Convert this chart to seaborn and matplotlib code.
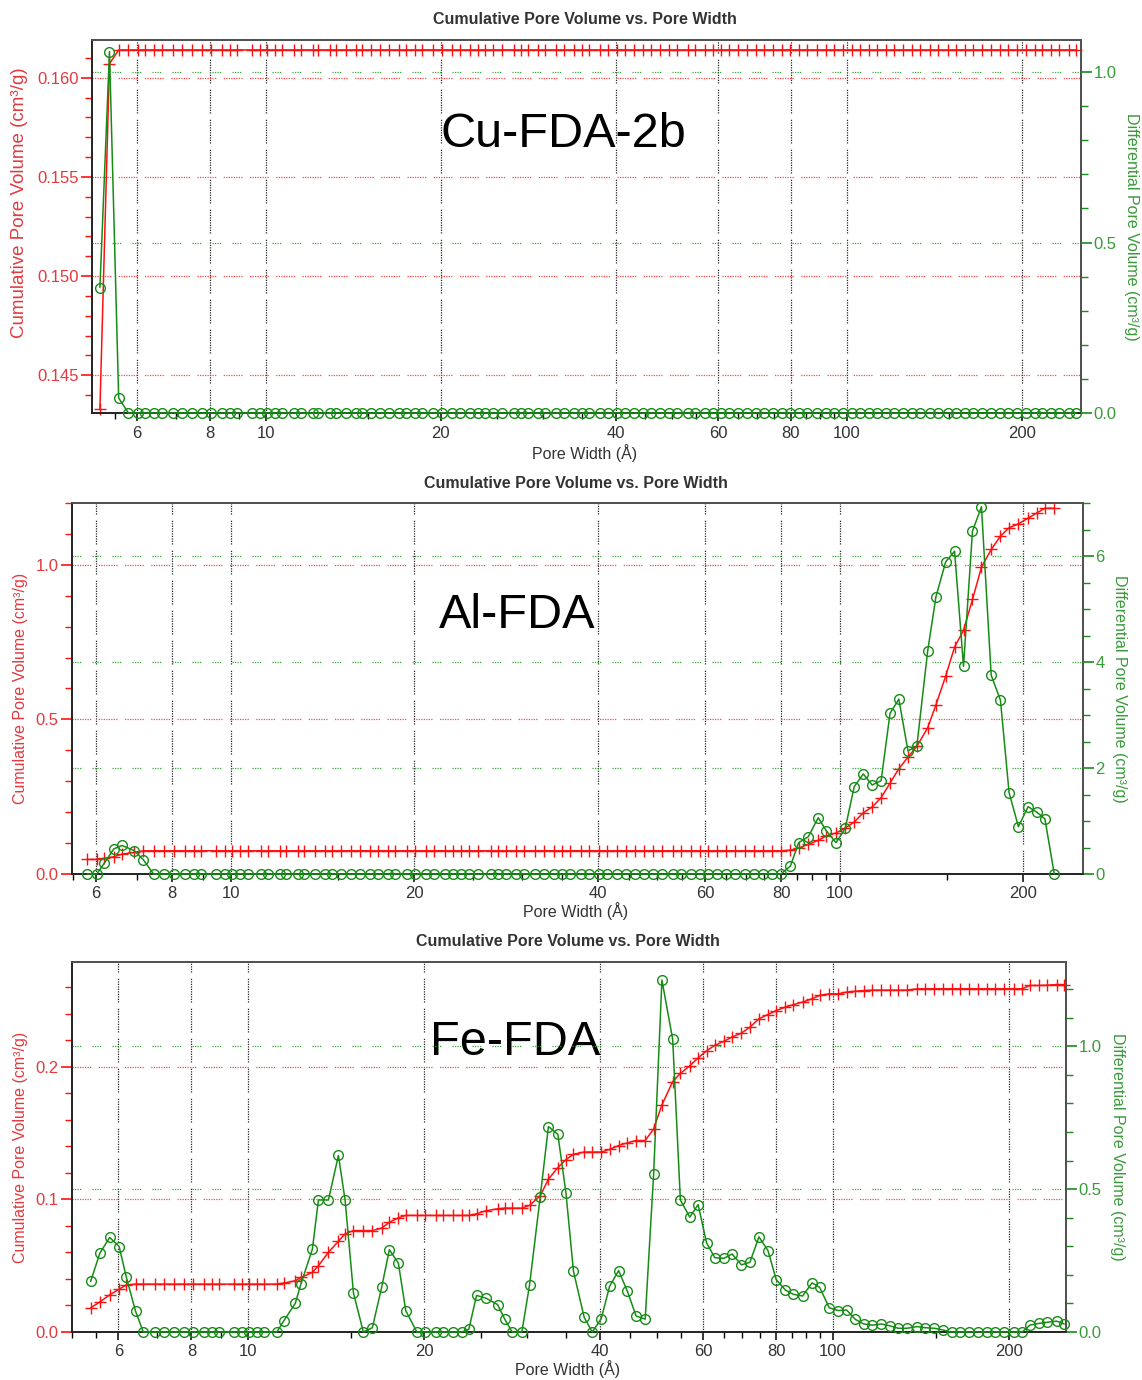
import matplotlib
matplotlib.use("Agg")
import matplotlib.pyplot as plt
import seaborn as sns
import pandas as pd
from matplotlib.ticker import FixedLocator, MultipleLocator, NullFormatter, FormatStrFormatter

# DFT pore widths (Å), the same grid is used by all three samples
pore_width = [
    5.18, 5.38, 5.58, 5.80, 6.02, 6.19, 6.42, 6.62, 6.93, 7.18,
    7.46, 7.76, 8.06, 8.40, 8.68, 8.92, 9.45, 9.76, 10.05, 10.35,
    10.65, 11.20, 11.50, 12.04, 12.31, 12.88, 13.19, 13.72, 14.27, 14.65,
    15.14, 15.74, 16.31, 16.92, 17.44, 18.07, 18.60, 19.43, 20.07, 20.93,
    21.57, 22.43, 23.17, 23.84, 24.58, 25.47, 26.70, 27.48, 28.28, 29.38,
    30.29, 31.57, 32.62, 33.85, 34.95, 36.0, 37.55, 38.76, 40.16, 41.5,
    43.0, 44.5, 46.06, 47.74, 49.35, 50.99, 53.2, 54.83, 56.9, 58.8,
    60.78, 62.8, 65.07, 67.2, 69.74, 72.1, 74.7, 77.4, 79.98, 82.9,
    85.5, 88.7, 92.1, 94.9, 98.5, 102.0, 105.5, 109.2, 112.9, 116.8,
    120.8, 124.9, 129.3, 133.7, 139.3, 143.7, 149.1, 154.2, 159.5, 165.0,
    170.7, 177.1, 183.4, 189.5, 196.3, 203.6, 210.6, 217.0, 224.8, 232.2,
    241.2, 248.5,
]

# Cu-FDA-2b (starts at pore_width[0])
cu_start = 0
cu_cumulative = [0.1433, 0.1607] + [0.1614] * 110
cu_differential = [0.368, 1.06, 0.044] + [0.0] * 109

# Al-FDA (starts at pore_width[3])
al_start = 3
al_cumulative = ([0.0472, 0.0472, 0.0504, 0.0558, 0.0644, 0.0697, 0.0751]
                 + [0.0751] * 69
                 + [0.077, 0.084, 0.096, 0.109, 0.123, 0.1325, 0.1487, 0.168, 0.198, 0.2166,
                    0.2468, 0.294, 0.3405, 0.378, 0.4127, 0.473, 0.547, 0.64, 0.734, 0.788,
                    0.888, 0.9925, 1.0496, 1.093, 1.12, 1.1325, 1.151, 1.168, 1.183, 1.183])
al_differential = ([0.0, 0.0, 0.203, 0.475, 0.538, 0.443, 0.266]
                   + [0.0] * 69
                   + [0.151, 0.591, 0.704, 1.063, 0.818, 0.591, 0.862, 1.648, 1.887, 1.679,
                      1.761, 3.03, 3.30, 2.32, 2.415, 4.21, 5.23, 5.89, 6.09, 3.92,
                      6.47, 6.93, 3.75, 3.28, 1.535, 0.893, 1.27, 1.164, 1.038, 0.0])

# Fe-FDA (starts at pore_width[1])
fe_start = 1
fe_cumulative = ([0.0182, 0.0227, 0.028, 0.0323, 0.0354]
                 + [0.0361] * 16
                 + [0.0369, 0.0386, 0.0412, 0.0449, 0.05, 0.0601, 0.0684, 0.074, 0.0765, 0.0765,
                    0.0765, 0.0783, 0.0828, 0.0861]
                 + [0.0879] * 8
                 + [0.0891, 0.0914, 0.0929, 0.0934, 0.0934, 0.0934, 0.0955, 0.1027, 0.1152, 0.124,
                    0.130, 0.134, 0.1357, 0.1357, 0.1357, 0.1377, 0.1406, 0.1426, 0.1444, 0.1444,
                    0.1531, 0.1713, 0.1888, 0.195, 0.2007, 0.2067, 0.212, 0.2162, 0.2192, 0.2224,
                    0.2254, 0.2299, 0.2362, 0.2394, 0.2424, 0.245, 0.2468, 0.2488, 0.2513, 0.2538,
                    0.255, 0.255, 0.2563, 0.257, 0.2575]
                 + [0.2578] * 5
                 + [0.2588] * 13
                 + [0.2613, 0.2613, 0.2615, 0.262, 0.262])
fe_differential = ([0.177, 0.276, 0.331, 0.299, 0.193, 0.073]
                   + [0.0] * 15
                   + [0.038, 0.10, 0.168, 0.29, 0.462, 0.462, 0.618, 0.462, 0.137, 0.0,
                      0.015, 0.157, 0.288, 0.241, 0.075]
                   + [0.0] * 6
                   + [0.009, 0.128, 0.119, 0.096, 0.044, 0.0, 0.0, 0.166, 0.471, 0.719,
                      0.692, 0.486, 0.212, 0.051, 0.0, 0.047, 0.160, 0.215, 0.143, 0.056,
                      0.045, 0.552, 1.232, 1.024, 0.462, 0.402, 0.446, 0.312, 0.26, 0.258,
                      0.273, 0.235, 0.244, 0.333, 0.285, 0.183, 0.147, 0.132, 0.126, 0.172,
                      0.156, 0.085, 0.075, 0.077, 0.044, 0.028, 0.024, 0.028, 0.022, 0.013,
                      0.013, 0.019, 0.015, 0.013, 0.007]
                   + [0.0] * 9
                   + [0.024, 0.030, 0.034, 0.038, 0.028])

x_major = [6, 8, 10, 20, 40, 60, 80, 100, 200]
x_minor = [5, 5.5, 7, 9, 15, 25, 30, 35, 45, 50, 55, 65, 70, 75, 85, 90, 95, 150]

TITLE = "Cumulative Pore Volume vs. Pore Width"
LEFT_LABEL = "Cumulative Pore Volume (cm³/g)"
RIGHT_LABEL = "Differential Pore Volume (cm³/g)"
X_LABEL = "Pore Width (Å)"

RED = "#ff1010"
RED_TXT = "#e23a3f"
GREEN = "#168c16"
GREEN_TXT = "#3a9a3a"
GRAY = "#333333"


def make_frame(start, cumulative, differential):
    n = len(cumulative)
    assert n == len(differential)
    return pd.DataFrame({
        "width": pore_width[start:start + n],
        "cumulative": cumulative,
        "differential": differential,
    })


def dot_dash(n_dots, gap):
    return (0, (1, 1) * (n_dots - 1) + (1, gap))


sns.set_theme(style="ticks")
plt.rcParams["font.family"] = ["Liberation Sans", "DejaVu Sans"]

W, H = 1142, 1380
fig = plt.figure(figsize=(W / 100, H / 100), dpi=100)

panels = [
    dict(name="Cu-FDA-2b", df=make_frame(cu_start, cu_cumulative, cu_differential),
         box=(92, 40, 1081, 413), xlim=(5.02, 253), yl=(0.1431, 0.1619), yr=(0, 1.094),
         l_major=0.005, l_minor=0.001, l_fmt="%.3f", r_major=0.5, r_minor=0.1, r_fmt="%.1f",
         name_xy=(0.477, 0.712), lab_size=13.5, lab_y=0.564, lab_x=20, rlab_x=1131,
         title_y=20, xlab_y=453),
    dict(name="Al-FDA", df=make_frame(al_start, al_cumulative, al_differential),
         box=(72, 503, 1083, 874), xlim=(5.48, 250.6), yl=(0, 1.2), yr=(0, 7.0),
         l_major=0.5, l_minor=0.1, l_fmt="%.1f", r_major=2, r_minor=0.5, r_fmt="%d",
         name_xy=(0.44, 0.663), lab_size=11.5, lab_y=0.5, lab_x=21, rlab_x=1120,
         title_y=484, xlab_y=911),
    dict(name="Fe-FDA", df=make_frame(fe_start, fe_cumulative, fe_differential),
         box=(72, 962, 1066, 1332), xlim=(5.0, 250.2), yl=(0, 0.279), yr=(0, 1.295),
         l_major=0.1, l_minor=0.02, l_fmt="%.1f", r_major=0.5, r_minor=0.1, r_fmt="%.1f",
         name_xy=(0.446, 0.749), lab_size=11.5, lab_y=0.5, lab_x=21, rlab_x=1117,
         title_y=942, xlab_y=1369),
]

for p in panels:
    x0, y0, x1, y1 = p["box"]
    ax = fig.add_axes([x0 / W, 1 - y1 / H, (x1 - x0) / W, (y1 - y0) / H])
    ax2 = ax.twinx()
    df = p["df"]

    sns.lineplot(data=df, x="width", y="cumulative", ax=ax, color=RED, marker="+",
                 markersize=9, markeredgewidth=1.0, markeredgecolor=RED, linewidth=1.1,
                 clip_on=False, legend=False, zorder=3)
    sns.lineplot(data=df, x="width", y="differential", ax=ax2, color=GREEN, marker="o",
                 markersize=7, markerfacecolor="none", markeredgecolor=GREEN,
                 markeredgewidth=1.0, linewidth=1.1, clip_on=False, legend=False, zorder=3)

    ax.set_xscale("log")
    ax.set_xlim(*p["xlim"])
    ax.set_ylim(*p["yl"])
    ax2.set_ylim(*p["yr"])

    ax.xaxis.set_major_locator(FixedLocator(x_major))
    ax.xaxis.set_minor_locator(FixedLocator(x_minor))
    ax.xaxis.set_major_formatter(FormatStrFormatter("%d"))
    ax.xaxis.set_minor_formatter(NullFormatter())
    ax.yaxis.set_major_locator(MultipleLocator(p["l_major"]))
    ax.yaxis.set_minor_locator(MultipleLocator(p["l_minor"]))
    ax.yaxis.set_major_formatter(FormatStrFormatter(p["l_fmt"]))
    ax2.yaxis.set_major_locator(MultipleLocator(p["r_major"]))
    ax2.yaxis.set_minor_locator(MultipleLocator(p["r_minor"]))
    ax2.yaxis.set_major_formatter(FormatStrFormatter(p["r_fmt"]))

    ax.tick_params(axis="x", which="major", direction="out", length=6, width=1.1,
                   color="black", labelsize=12, labelcolor=GRAY, pad=3)
    ax.tick_params(axis="x", which="minor", direction="out", length=4, width=1, color="black")
    ax.tick_params(axis="y", which="major", direction="out", length=8, width=1.2,
                   color=RED, labelsize=12, labelcolor=RED_TXT, pad=1.5)
    ax.tick_params(axis="y", which="minor", direction="out", length=5, width=1, color=RED)
    ax2.tick_params(axis="y", which="major", direction="out", length=8, width=1.2,
                    color=GREEN, labelsize=12, labelcolor=GREEN_TXT, pad=1)
    ax2.tick_params(axis="y", which="minor", direction="out", length=5, width=1, color=GREEN)

    ax.set_xlabel("")
    ax.set_ylabel("")
    ax2.set_ylabel("")

    for a in (ax, ax2):
        for side in ("top", "bottom", "left", "right"):
            a.spines[side].set_visible(True)
            a.spines[side].set_linewidth(1.2)
            a.spines[side].set_color("#222222")
    ax2.spines["right"].set_color("#555555")
    ax2.spines["top"].set_color("#555555")

    # grids: black at x majors, red at left majors, green at right majors
    ax.set_axisbelow(True)
    ax.xaxis.grid(True, which="major", color="black", linewidth=0.9,
                  linestyle=dot_dash(10, 5), alpha=0.85)
    ax.yaxis.grid(True, which="major", color="#ff3030", linewidth=0.9,
                  linestyle=dot_dash(8, 6), alpha=0.9)
    ax2.yaxis.grid(True, which="major", color="#22a022", linewidth=0.9,
                   linestyle=dot_dash(4, 9), alpha=0.9)
    ax2.set_zorder(ax.get_zorder() + 1)
    ax2.patch.set_visible(False)

    # texts
    ax.text(p["name_xy"][0], p["name_xy"][1], p["name"], transform=ax.transAxes,
            ha="center", va="baseline", fontsize=35, color="black", zorder=5)
    ax.text(0.4985, 1 + (y0 - p["title_y"]) / (y1 - y0), TITLE, transform=ax.transAxes,
            ha="center", va="center", fontsize=11.5, fontweight="bold", color=GRAY)
    ax.text(0.4985, (y1 - p["xlab_y"]) / (y1 - y0), X_LABEL, transform=ax.transAxes,
            ha="center", va="center", fontsize=11.5, color=GRAY)
    ax.text((p["lab_x"] - x0) / (x1 - x0), p["lab_y"], LEFT_LABEL, transform=ax.transAxes,
            ha="center", va="center", rotation=90, fontsize=p["lab_size"], color=RED_TXT)
    ax.text((p["rlab_x"] - x0) / (x1 - x0), 0.5, RIGHT_LABEL, transform=ax.transAxes,
            ha="center", va="center", rotation=270, fontsize=11.5, color=GREEN_TXT)

fig.savefig("out.png", dpi=100, facecolor="white")
